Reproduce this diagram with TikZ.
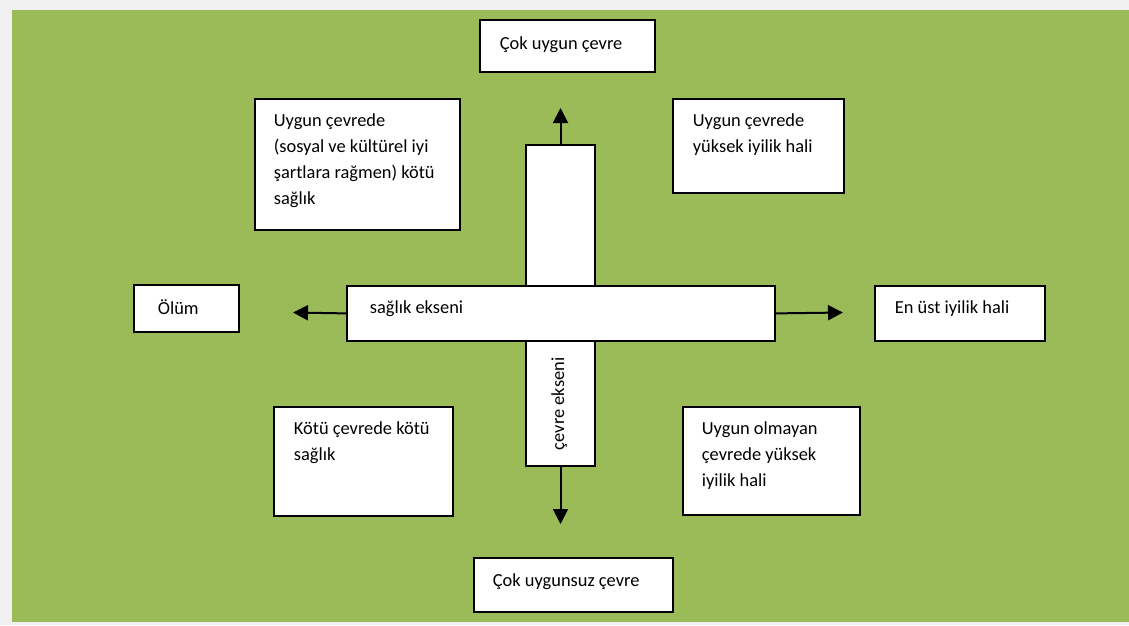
\documentclass[tikz,border=0pt]{standalone}
\usepackage{fontspec}
\setmainfont{Carlito}
\usetikzlibrary{positioning}
\usetikzlibrary{arrows.meta}
\definecolor{yesil}{HTML}{9BBB59}
\definecolor{zemin}{HTML}{F0F0F0}
\tikzset{kutu/.style={draw,fill=white,line width=1.8pt,anchor=north west,inner xsep=20pt,inner ysep=9pt}}
\tikzset{ok/.style={->,line width=2pt}}
\tikzset{>={Triangle[length=15pt,width=15pt]}}
\newcommand{\yazi}[3]{\parbox[c][#2][t]{#1}{\fontsize{18.4}{26}\selectfont\raggedright\strut #3}}

\begin{document}
\begin{tikzpicture}[x=1pt,y=-1pt]
\useasboundingbox (0,0) rectangle (1129,625);
\fill[zemin] (0,0) rectangle (1129,625);
\fill[yesil] (12,10) rectangle (1129,622);

% eksenler
\node[kutu,anchor=center,rotate=90,inner xsep=16pt,inner ysep=19.8pt] (cevre) at (560.5,305.5) {\yazi{289pt}{29.4pt}{çevre ekseni}};
\node[kutu,inner xsep=23pt] (saglik) at (346,285) {\yazi{382pt}{37pt}{sağlık ekseni}};

% kutular
\node[kutu,inner ysep=11pt] (cokuygun) at (479,19) {\yazi{135pt}{30pt}{Çok uygun çevre}};
\node[kutu,inner xsep=19pt] (uygunkotu) at (254,98) {\yazi{167pt}{113pt}{Uygun çevrede\\(sosyal ve kültürel iyi\\şartlara rağmen) kötü\\sağlık}};
\node[kutu] (uygunyuksek) at (672,98) {\yazi{131pt}{76pt}{Uygun çevrede\\yüksek iyilik hali}};
\node[kutu,inner xsep=24pt,inner ysep=11pt] (olum) at (133,284) {\yazi{57pt}{25pt}{Ölüm}};
\node[kutu] (enust) at (874,285) {\yazi{130pt}{37pt}{En üst iyilik hali}};
\node[kutu] (kotukotu) at (273,406) {\yazi{139pt}{91pt}{Kötü çevrede kötü\\sağlık}};
\node[kutu,inner xsep=19pt] (uygunsuzyuksek) at (682,406) {\yazi{139pt}{90pt}{Uygun olmayan\\çevrede yüksek\\iyilik hali}};
\node[kutu,inner xsep=19pt,inner ysep=10pt] (cokuygunsuz) at (473,557) {\yazi{161pt}{34pt}{Çok uygunsuz çevre}};

\coordinate (ust) at (560.5,108);
\coordinate (alt) at (560.5,524);
\coordinate (sol) at (293,312.5);
\coordinate (sag) at (843,312.5);

\draw[ok] (cevre.east) -- (ust);
\draw[ok] (cevre.west) -- (alt);
\draw[ok] (saglik.west) -- (sol);
\draw[ok] (saglik.east) -- (sag);
\end{tikzpicture}
\end{document}
